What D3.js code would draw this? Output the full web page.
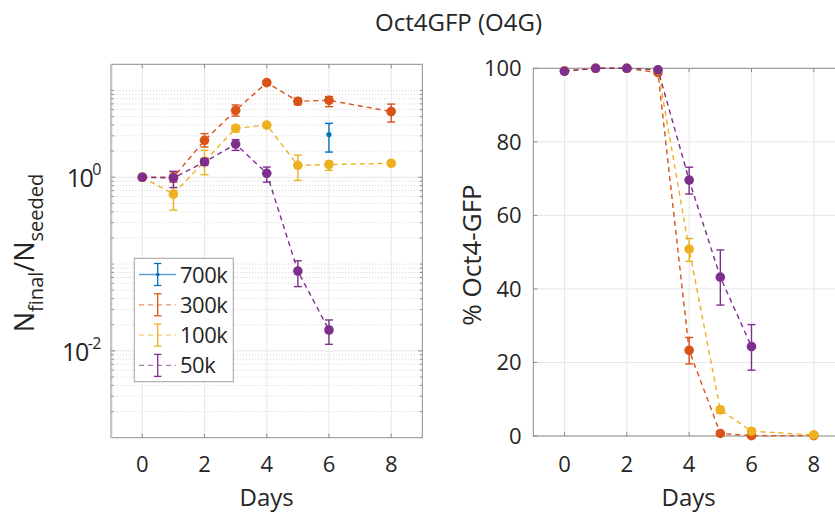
<!DOCTYPE html>
<html><head><meta charset="utf-8">
<script src="https://cdn.jsdelivr.net/npm/d3@7"></script>
<style>
html,body{margin:0;padding:0;background:#fff;overflow:hidden}
text{font-family:"Open Sans",sans-serif;fill:#262626}
</style></head>
<body><svg id="c" width="835" height="516"></svg>
<script>
const days = [0,1,2,3,4,5,6,8];
const seriesNames = ["700k","300k","100k","50k"];
const colors = ["#0072BD","#D95319","#EDB120","#7E2F8E"];
// Left panel: N_final / N_seeded
const fold700k = [null,null,null,null,null,null,3.1,null];
const fold700kLow = [null,null,null,null,null,null,1.95,null];
const fold700kHigh = [null,null,null,null,null,null,4.18,null];
const fold300k = [1.0,1.0,2.66,5.9,12.3,7.5,7.7,5.7];
const fold300kLow = [null,0.88,2.23,5.07,11.6,6.85,6.5,4.32];
const fold300kHigh = [null,1.15,3.18,6.8,12.9,8.15,8.5,6.96];
const fold100k = [1.0,0.64,1.53,3.66,3.99,1.37,1.4,1.45];
const fold100kLow = [null,0.42,1.07,3.32,3.8,0.92,1.2,1.38];
const fold100kHigh = [null,0.97,2.04,3.96,4.2,1.8,1.53,1.52];
const fold50k = [1.0,0.98,1.5,2.41,1.11,0.083,0.0174,null];
const fold50kLow = [null,0.76,1.37,2.04,0.88,0.055,0.0119,null];
const fold50kHigh = [null,1.17,1.64,2.71,1.31,0.109,0.0227,null];
// Right panel: % Oct4-GFP
const gfp300k = [99.3,100,100,98.8,23.3,0.7,0.1,0.1];
const gfp300kLow = [null,null,null,null,19.6,null,null,null];
const gfp300kHigh = [null,null,null,null,26.8,null,null,null];
const gfp100k = [99.3,100,100,99.5,50.8,7.1,1.3,0.3];
const gfp100kLow = [null,null,null,null,47.5,6.2,0.9,null];
const gfp100kHigh = [null,null,null,null,53.7,8.0,1.7,null];
const gfp50k = [99.2,100,100,99.6,69.6,43.2,24.3,null];
const gfp50kLow = [null,null,null,null,65.8,35.6,17.9,null];
const gfp50kHigh = [null,null,null,null,73.1,50.6,30.3,null];
const xTicks = [0,2,4,6,8];
const leftYTicks = [1e-2,1e0];
const rightYTicks = [0,20,40,60,80,100];

const svg = d3.select("#c");
const axisCol = "#8c8c8c";

function mk(vals, lo, hi){ return days.map((d,i)=>({d, v:vals[i], lo:lo[i], hi:hi[i]})).filter(p=>p.v!==null); }

function drawSeries(g, x, y, pts, color, dashed, r, showLine){
  if(showLine){
    g.append("path").datum(pts)
      .attr("d", d3.line().x(p=>x(p.d)).y(p=>y(p.v)))
      .attr("fill","none").attr("stroke",color).attr("stroke-width",1.4)
      .attr("stroke-dasharray", dashed ? "5,4" : null);
  }
  const eb = pts.filter(p=>p.lo!==null && p.lo!==undefined);
  eb.forEach(p=>{
    const cx = x(p.d);
    g.append("line").attr("x1",cx).attr("x2",cx).attr("y1",y(p.lo)).attr("y2",y(p.hi))
      .attr("stroke",color).attr("stroke-width",1.4);
    [p.lo,p.hi].forEach(e=>g.append("line").attr("x1",cx-4).attr("x2",cx+4)
      .attr("y1",y(e)).attr("y2",y(e)).attr("stroke",color).attr("stroke-width",1.4));
  });
  g.selectAll(null).data(pts).enter().append("circle")
    .attr("cx",p=>x(p.d)).attr("cy",p=>y(p.v)).attr("r",r).attr("fill",color);
}

// ---------- LEFT PANEL ----------
const xL = d3.scaleLinear().domain([-1,9]).range([111.2,422.3]);
const yL = d3.scaleLog().domain([1e-3,20]).range([437.7,64.3]);
const gL = svg.append("g");
const minorVals = [];
for(let e=-3;e<=1;e++){ for(let m=1;m<=9;m++){ const v=m*Math.pow(10,e); if(v>1e-3 && v<20 && !(m===1 && (e===-2||e===0))) minorVals.push(v);} }
gL.selectAll(null).data(minorVals).enter().append("line")
  .attr("x1",xL(-1)).attr("x2",xL(9)).attr("y1",d=>yL(d)).attr("y2",d=>yL(d))
  .attr("stroke","#d4d4d4").attr("stroke-width",1).attr("stroke-dasharray","1,2");
gL.selectAll(null).data(leftYTicks).enter().append("line")
  .attr("x1",xL(-1)).attr("x2",xL(9)).attr("y1",d=>yL(d)).attr("y2",d=>yL(d))
  .attr("stroke","#e6e6e6").attr("stroke-width",1);
gL.selectAll(null).data(xTicks).enter().append("line")
  .attr("x1",d=>xL(d)).attr("x2",d=>xL(d)).attr("y1",yL(1e-3)).attr("y2",yL(20))
  .attr("stroke","#e6e6e6").attr("stroke-width",1);
gL.append("rect").attr("x",xL(-1)).attr("y",yL(20)).attr("width",xL(9)-xL(-1)).attr("height",yL(1e-3)-yL(20))
  .attr("fill","none").attr("stroke",axisCol).attr("stroke-width",1);
gL.append("line").attr("x1",xL(-1)).attr("x2",xL(-1)).attr("y1",yL(20)).attr("y2",yL(1e-3))
  .attr("stroke","#c4c4c4").attr("stroke-width",2.2);
xTicks.forEach(t=>{
  gL.append("line").attr("x1",xL(t)).attr("x2",xL(t)).attr("y1",yL(1e-3)).attr("y2",yL(1e-3)-4).attr("stroke",axisCol);
  gL.append("line").attr("x1",xL(t)).attr("x2",xL(t)).attr("y1",yL(20)).attr("y2",yL(20)+4).attr("stroke",axisCol);
});
minorVals.concat(leftYTicks).forEach(v=>{
  const len = leftYTicks.includes(v) ? 4 : 2.5;
  gL.append("line").attr("x1",xL(-1)).attr("x2",xL(-1)+len).attr("y1",yL(v)).attr("y2",yL(v)).attr("stroke",axisCol);
  gL.append("line").attr("x1",xL(9)).attr("x2",xL(9)-len).attr("y1",yL(v)).attr("y2",yL(v)).attr("stroke",axisCol);
});
gL.selectAll(null).data(xTicks).enter().append("text")
  .attr("x",d=>xL(d)).attr("y",472).attr("text-anchor","middle").attr("font-size",22).text(d=>d);
leftYTicks.forEach(v=>{
  const ex = Math.round(Math.log10(v));
  const t = gL.append("text").attr("x",101).attr("y",yL(v)+10).attr("text-anchor","end").attr("font-size",25).attr("letter-spacing",-1.5);
  t.append("tspan").text("10");
  t.append("tspan").attr("dy",-12).attr("font-size",16).attr("letter-spacing",-0.5).text(ex);
});
gL.append("text").attr("x",266.7).attr("y",506).attr("text-anchor","middle").attr("font-size",24).text("Days");
const yl = gL.append("text").attr("transform","translate(34,253) rotate(-90)").attr("text-anchor","middle").attr("font-size",27);
yl.append("tspan").text("N");
yl.append("tspan").attr("dy",9).attr("font-size",20).text("final");
yl.append("tspan").attr("dy",-9).text("/N");
yl.append("tspan").attr("dy",9).attr("font-size",20).text("seeded");

const leftData = [
  [fold700k,fold700kLow,fold700kHigh],
  [fold300k,fold300kLow,fold300kHigh],
  [fold100k,fold100kLow,fold100kHigh],
  [fold50k,fold50kLow,fold50kHigh]];
leftData.forEach((s,i)=>{
  drawSeries(gL, xL, yL, mk(s[0],s[1],s[2]), colors[i], true, i===0?2.6:4.8, i!==0);
});

const lg = gL.append("g");
lg.append("rect").attr("x",134.3).attr("y",258.3).attr("width",99).attr("height",123.4)
  .attr("fill","#fff").attr("stroke","#a0a0a0").attr("stroke-width",1);
seriesNames.forEach((n,i)=>{
  const cy = 274.5 + i*30.3;
  const c = colors[i];
  lg.append("line").attr("x1",139).attr("x2",176).attr("y1",cy).attr("y2",cy)
    .attr("stroke",c).attr("stroke-opacity",0.65).attr("stroke-width",1.3)
    .attr("stroke-dasharray", i===0?null:"5,4");
  lg.append("line").attr("x1",157.7).attr("x2",157.7).attr("y1",cy-11).attr("y2",cy+11).attr("stroke",c).attr("stroke-width",1.3);
  [cy-11,cy+11].forEach(yy=>lg.append("line").attr("x1",154).attr("x2",161.4).attr("y1",yy).attr("y2",yy).attr("stroke",c).attr("stroke-width",1.3));
  if(i===0) lg.append("circle").attr("cx",157.7).attr("cy",cy).attr("r",1.8).attr("fill",c);
  lg.append("text").attr("x",180).attr("y",cy+8).attr("font-size",22).attr("letter-spacing",-0.5).text(n);
});

// ---------- RIGHT PANEL ----------
const xR = d3.scaleLinear().domain([-1,9]).range([533.3,845]);
const yR = d3.scaleLinear().domain([0,100]).range([436,68.3]);
const gR = svg.append("g");
gR.selectAll(null).data(rightYTicks).enter().append("line")
  .attr("x1",xR(-1)).attr("x2",xR(9)).attr("y1",d=>yR(d)).attr("y2",d=>yR(d))
  .attr("stroke","#e6e6e6");
gR.selectAll(null).data(xTicks).enter().append("line")
  .attr("x1",d=>xR(d)).attr("x2",d=>xR(d)).attr("y1",yR(0)).attr("y2",yR(100))
  .attr("stroke","#e6e6e6");
gR.append("rect").attr("x",xR(-1)).attr("y",yR(100)).attr("width",xR(9)-xR(-1)).attr("height",yR(0)-yR(100))
  .attr("fill","none").attr("stroke",axisCol);
xTicks.forEach(t=>{
  gR.append("line").attr("x1",xR(t)).attr("x2",xR(t)).attr("y1",yR(0)).attr("y2",yR(0)-4).attr("stroke",axisCol);
  gR.append("line").attr("x1",xR(t)).attr("x2",xR(t)).attr("y1",yR(100)).attr("y2",yR(100)+4).attr("stroke",axisCol);
});
rightYTicks.forEach(v=>{
  gR.append("line").attr("x1",xR(-1)).attr("x2",xR(-1)+4).attr("y1",yR(v)).attr("y2",yR(v)).attr("stroke",axisCol);
});
gR.selectAll(null).data(xTicks).enter().append("text")
  .attr("x",d=>xR(d)).attr("y",472).attr("text-anchor","middle").attr("font-size",22).text(d=>d);
gR.selectAll(null).data(rightYTicks).enter().append("text")
  .attr("x",521.7).attr("y",d=>yR(d)+8).attr("text-anchor","end").attr("font-size",22).text(d=>d);
gR.append("text").attr("x",688.7).attr("y",506).attr("text-anchor","middle").attr("font-size",24).text("Days");
gR.append("text").attr("transform","translate(481,255) rotate(-90)").attr("text-anchor","middle").attr("font-size",26).text("% Oct4-GFP");

const rightData = [
  [gfp300k,gfp300kLow,gfp300kHigh],
  [gfp100k,gfp100kLow,gfp100kHigh],
  [gfp50k,gfp50kLow,gfp50kHigh]];
rightData.forEach((s,i)=>{
  drawSeries(gR, xR, yR, mk(s[0],s[1],s[2]), colors[i+1], true, 4.8, true);
});

svg.append("text").attr("x",458.5).attr("y",31).attr("text-anchor","middle").attr("font-size",24).text("Oct4GFP (O4G)");
</script></body></html>
